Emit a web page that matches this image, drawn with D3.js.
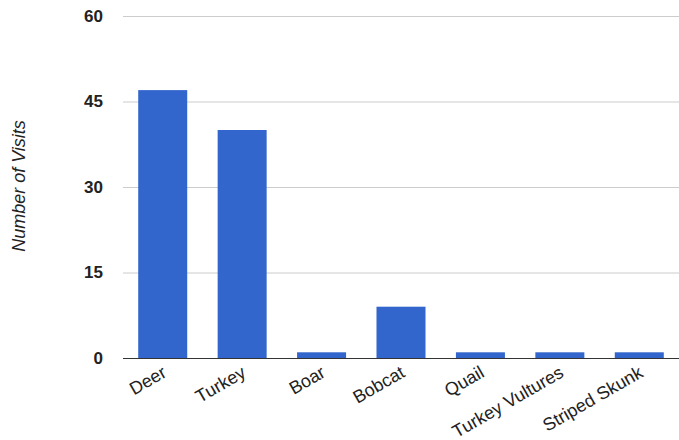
<!DOCTYPE html>
<html><head><meta charset="utf-8">
<script src="https://cdn.jsdelivr.net/npm/d3@7"></script>
<style>body{margin:0;background:#fff}svg{display:block}text{font-family:"Liberation Sans",Arial,sans-serif}</style>
</head><body>
<script>
const categories = ["Deer","Turkey","Boar","Bobcat","Quail","Turkey Vultures","Striped Skunk"];
const values = [47,40,1,9,1,1,1];
const yTicks = [0,15,30,45,60];
const yTitle = "Number of Visits";

const W=679,H=440, mLeft=123, mRight=679, mTop=16, mBottom=358;
const svg=d3.select("body").append("svg").attr("width",W).attr("height",H);
const x=d3.scaleBand().domain(categories).range([mLeft,mRight]).paddingInner(0.383).paddingOuter(0.1915);
const y=d3.scaleLinear().domain([0,60]).range([mBottom,mTop]);

// gridlines
svg.append("g").selectAll("line").data(yTicks.filter(d=>d>0)).join("line")
  .attr("x1",mLeft).attr("x2",mRight).attr("y1",d=>y(d)+0.5).attr("y2",d=>y(d)+0.5)
  .attr("stroke","#cccccc").attr("stroke-width",1);

// y axis labels
const ya=svg.append("g").attr("transform",`translate(${mLeft},0)`)
  .call(d3.axisLeft(y).tickValues(yTicks).tickSize(0).tickPadding(20));
ya.select(".domain").remove();
ya.selectAll("text").attr("font-size",17).attr("font-weight","bold").attr("fill","#222")
  .attr("font-family","'Liberation Sans',Arial,sans-serif");

// bars
svg.append("g").selectAll("rect").data(categories).join("rect")
  .attr("x",d=>x(d)).attr("width",x.bandwidth())
  .attr("y",(d,i)=>y(values[i])).attr("height",(d,i)=>y(0)-y(values[i]))
  .attr("fill","#3366cc");

// baseline
svg.append("line").attr("x1",mLeft).attr("x2",mRight).attr("y1",y(0)+0.5).attr("y2",y(0)+0.5)
  .attr("stroke","#333").attr("stroke-width",1);

// x labels
const xa=svg.append("g").attr("transform",`translate(0,${mBottom})`)
  .call(d3.axisBottom(x).tickSize(0).tickPadding(0));
xa.select(".domain").remove();
xa.selectAll("text").attr("font-size",18).attr("fill","#222")
  .attr("font-family","'Liberation Sans',Arial,sans-serif")
  .attr("text-anchor","end").attr("dy",null).attr("y",null)
  .attr("transform","translate(5,18) rotate(-30)");

// y title
svg.append("text").attr("transform","translate(25,186) rotate(-90)")
  .attr("text-anchor","middle").attr("font-size",18).attr("font-style","italic")
  .attr("fill","#222").text(yTitle);
</script>
</body></html>
